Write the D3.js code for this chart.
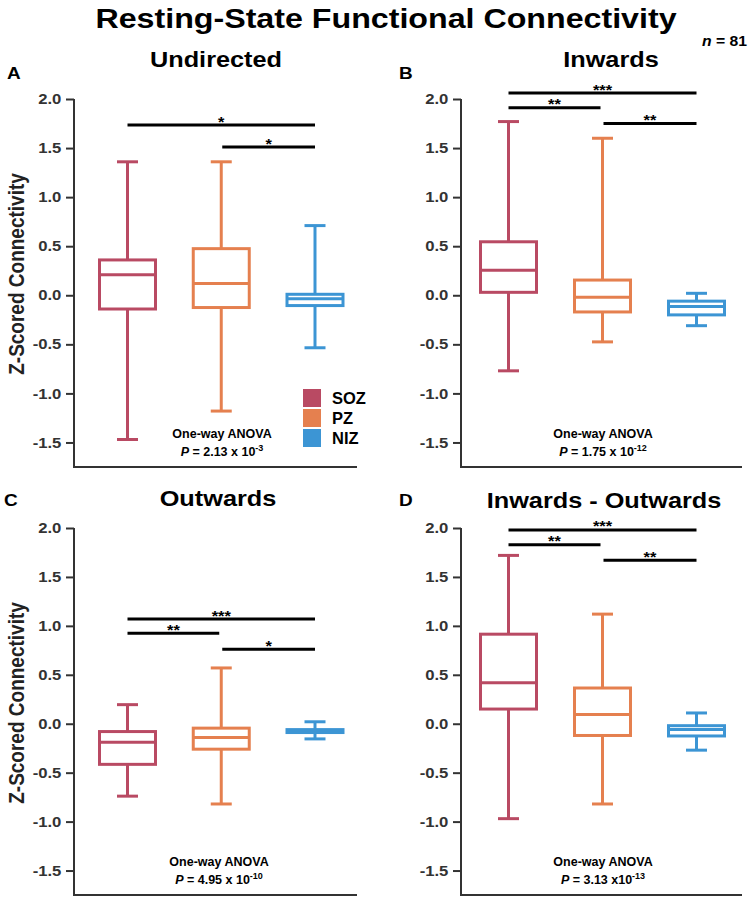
<!DOCTYPE html>
<html><head><meta charset="utf-8">
<script src="https://cdn.jsdelivr.net/npm/d3@7"></script>
<style>body{margin:0;background:#fff}text{font-family:"Liberation Sans",Arial,Helvetica,sans-serif;font-weight:bold}</style>
</head><body><svg id="c" width="750" height="898"></svg>
<script>
const groups = ["SOZ", "PZ", "NIZ"];
const colors = ["#b94a63", "#e5804f", "#3c95d4"];
const yTicks = [2.0, 1.5, 1.0, 0.5, 0.0, -0.5, -1.0, -1.5];
const yTickLabels = ["2.0", "1.5", "1.0", "0.5", "0.0", "-0.5", "-1.0", "-1.5"];
const panelTitles = ["Undirected", "Inwards", "Outwards", "Inwards - Outwards"];
const panelLetters = ["A", "B", "C", "D"];
// each group: [min, q1, median, q3, max]
const undirected = [[-1.47, -0.14, 0.21, 0.36, 1.36], [-1.18, -0.125, 0.12, 0.475, 1.36], [-0.535, -0.105, -0.035, 0.01, 0.71]];
const inwards = [[-0.77, 0.03, 0.255, 0.545, 1.77], [-0.475, -0.17, -0.02, 0.155, 1.60], [-0.31, -0.20, -0.115, -0.06, 0.02]];
const outwards = [[-0.74, -0.415, -0.19, -0.08, 0.195], [-0.82, -0.26, -0.14, -0.045, 0.57], [-0.155, -0.09, -0.075, -0.06, 0.02]];
const inMinusOut = [[-0.97, 0.15, 0.42, 0.915, 1.72], [-0.82, -0.12, 0.095, 0.365, 1.12], [-0.27, -0.125, -0.06, -0.02, 0.11]];
// significance: [from group, to group, height, label]
const sigUndirected = [[0, 2, 1.735, "*"], [1, 2, 1.51, "*"]];
const sigInwards = [[0, 2, 2.06, "***"], [0, 1, 1.91, "**"], [1, 2, 1.75, "**"]];
const sigOutwards = [[0, 2, 1.07, "***"], [0, 1, 0.925, "**"], [1, 2, 0.76, "*"]];
const sigInMinusOut = [[0, 2, 1.98, "***"], [0, 1, 1.83, "**"], [1, 2, 1.67, "**"]];
const pMantissa = ["2.13", "1.75", "4.95", "3.13"];
const pSep = [" x 10", " x 10", " x 10", " x10"];
const pExponent = ["-3", "-12", "-10", "-13"];
const yDomain = [-1.75, 2.0];

const boxData = [undirected, inwards, outwards, inMinusOut];
const sigData = [sigUndirected, sigInwards, sigOutwards, sigInMinusOut];

const svg = d3.select("#c");
const SX = 1.15;
function stext(x, y, str, size, anchor, stretch) {
  const g = svg.append("g").attr("transform", `translate(${x},${y}) scale(${stretch == null ? SX : stretch},1)`);
  return g.append("text").attr("text-anchor", anchor || "middle").attr("font-size", size).text(str);
}

// layout
const layout = [
  {ax: 74, right: 357, top: 99, bottom: 467, p0: 53.5, p1: 241, titleX: 216, titleY: 67, letterX: 7, letterY: 79, anovaX: 222, anovaY: 438, ylabY: 274},
  {ax: 461, right: 742, top: 99, bottom: 467, p0: 47.5, p1: 235.5, titleX: 611, titleY: 67, letterX: 399, letterY: 79, anovaX: 603, anovaY: 438},
  {ax: 74, right: 357, top: 528, bottom: 895, p0: 53.5, p1: 241, titleX: 218, titleY: 506, letterX: 4, letterY: 506, anovaX: 219, anovaY: 866, ylabY: 703},
  {ax: 461, right: 742, top: 528, bottom: 895, p0: 47.5, p1: 235.5, titleX: 604, titleY: 508, letterX: 399, letterY: 506, anovaX: 603, anovaY: 866}
];

// main title
stext(386, 28, "Resting-State Functional Connectivity", 28);
const nt = stext(702, 46, "", 15, "start", 1.05);
nt.append("tspan").attr("font-style", "italic").text("n");
nt.append("tspan").text(" = 81");

layout.forEach((L, i) => {
  const y = d3.scaleLinear().domain(yDomain).range([L.bottom, L.top]);
  const x = d3.scalePoint().domain(groups).range([L.ax + L.p0, L.ax + L.p1]);

  // axes
  const ya = svg.append("g").attr("transform", `translate(${L.ax},0)`)
    .call(d3.axisLeft(y).tickValues(yTicks).tickFormat((d, k) => yTickLabels[k]).tickSize(8).tickSizeOuter(0));
  ya.select(".domain").remove();
  ya.selectAll(".tick line").attr("stroke", "#333").attr("stroke-width", 2);
  ya.selectAll(".tick text").attr("font-size", 14.5).attr("fill", "#333").attr("x", -11)
    .attr("transform", "scale(1.15,1)");
  svg.append("path").attr("d", `M${L.ax},${y(2)}V${L.bottom}H${L.right}`)
    .attr("fill", "none").attr("stroke", "#333").attr("stroke-width", 2);

  // boxes
  const bw = 56, cw = 21;
  boxData[i].forEach((b, gi) => {
    const cx = x(groups[gi]);
    const g = svg.append("g").attr("stroke", colors[gi]).attr("stroke-width", 3).attr("fill", "none");
    g.append("line").attr("x1", cx).attr("x2", cx).attr("y1", y(b[4])).attr("y2", y(b[3]));
    g.append("line").attr("x1", cx).attr("x2", cx).attr("y1", y(b[1])).attr("y2", y(b[0]));
    g.append("line").attr("x1", cx - cw / 2).attr("x2", cx + cw / 2).attr("y1", y(b[4])).attr("y2", y(b[4]));
    g.append("line").attr("x1", cx - cw / 2).attr("x2", cx + cw / 2).attr("y1", y(b[0])).attr("y2", y(b[0]));
    g.append("rect").attr("x", cx - bw / 2).attr("width", bw).attr("y", y(b[3])).attr("height", y(b[1]) - y(b[3])).attr("fill", "#fff");
    g.append("line").attr("x1", cx - bw / 2).attr("x2", cx + bw / 2).attr("y1", y(b[2])).attr("y2", y(b[2]));
  });

  // significance bars
  sigData[i].forEach(s => {
    const x1 = x(groups[s[0]]) + (s[0] === 1 ? 1 : 0);
    const x2 = x(groups[s[1]]) - (s[1] === 1 ? 2 : 0);
    svg.append("line").attr("x1", x1).attr("x2", x2).attr("y1", y(s[2])).attr("y2", y(s[2]))
      .attr("stroke", "#000").attr("stroke-width", 3);
    stext((x1 + x2) / 2, y(s[2]) + 1.5, s[3], 15, "middle", 1.1);
  });

  // titles and labels
  stext(L.titleX, L.titleY, panelTitles[i], 22);
  stext(L.letterX, L.letterY, panelLetters[i], 16.5, "start");
  if (i % 2 === 0) {
    svg.append("g").attr("transform", `translate(16,${L.ylabY}) scale(1.15,1) rotate(-90)`)
      .append("text").attr("text-anchor", "middle").attr("dy", "0.36em").attr("font-size", 19).attr("fill", "#222")
      .text("Z-Scored Connectivity");
  }
  stext(L.anovaX, L.anovaY, "One-way ANOVA", 12.5, "middle", 1.0);
  const pt = stext(L.anovaX, L.anovaY + 18, "", 12.5, "middle", 1.0);
  pt.append("tspan").attr("font-style", "italic").text("P");
  pt.append("tspan").text(" = " + pMantissa[i] + pSep[i]);
  pt.append("tspan").attr("font-size", 9).attr("dy", -5).text(pExponent[i]);
});

// legend in panel A
groups.forEach((gname, gi) => {
  svg.append("rect").attr("x", 303).attr("y", 389 + gi * 20).attr("width", 18).attr("height", 18).attr("fill", colors[gi]);
  stext(332, 389 + gi * 20 + 15, gname, 16.5, "start", 1.0);
});
</script></body></html>
